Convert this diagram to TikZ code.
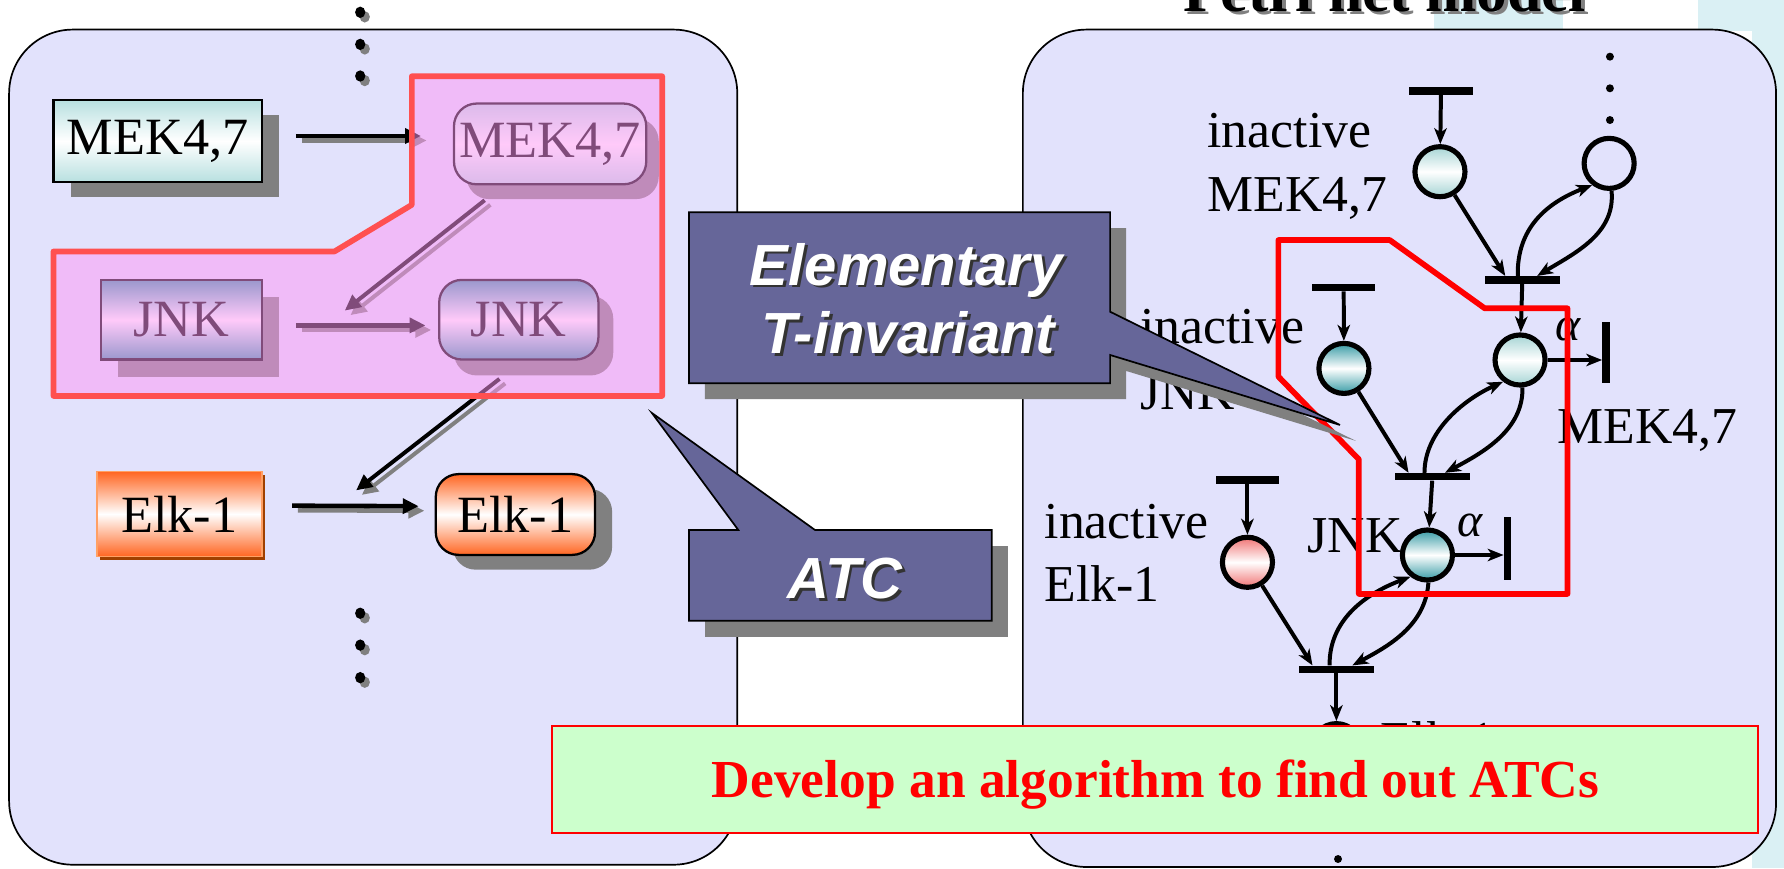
\documentclass[tikz,border=0pt]{standalone}
\usepackage{fontspec}
\setmainfont{Liberation Serif}
\newfontfamily\calloutfont{Liberation Sans}
\usetikzlibrary{arrows.meta,shadows}

\definecolor{panelbg}{RGB}{226,226,252}
\definecolor{shadowgray}{RGB}{128,128,128}
\definecolor{tealL}{RGB}{184,224,224}
\definecolor{tealP}{RGB}{165,212,212}
\definecolor{tealD}{RGB}{55,155,165}
\definecolor{elkorange}{RGB}{255,102,34}
\definecolor{elkedge}{RGB}{160,64,0}
\definecolor{elklight}{RGB}{255,160,100}
\definecolor{elkred}{RGB}{240,115,115}
\definecolor{atcpink}{RGB}{255,150,245}
\definecolor{atcred}{RGB}{255,80,80}
\definecolor{calloutbg}{RGB}{102,102,153}
\definecolor{goalgreen}{RGB}{204,255,204}
\definecolor{slidecyan}{RGB}{218,240,244}

\tikzset{
  panel/.style={draw=black, line width=1.5pt, fill=panelbg, rounded corners=56pt},
  lbl/.style={font=\fontsize{46}{55}\selectfont, inner sep=0pt, draw=black, line width=2pt},
  sqbox/.style={lbl, rectangle},
  rbox/.style={lbl, rectangle, rounded corners=20pt},
  tealgrad/.style={top color=tealL, bottom color=tealL, middle color=white},
  jnkgrad/.style={top color=tealD, bottom color=tealD, middle color=white},
  elkgrad/.style={top color=elkorange, bottom color=elkorange, middle color=white},
  boxshadow/.style 2 args={drop shadow={shadow xshift=#1, shadow yshift=#2, opacity=1, fill=shadowgray}},
  larrow/.style={line width=4pt, -{Triangle[length=14pt,width=13pt]}},
  lshadow/.style={larrow, draw=shadowgray},
  place/.style={circle, draw=black, line width=4.5pt, minimum size=44pt, inner sep=0pt},
  hbar/.style={rectangle, fill=black, inner sep=0pt, minimum height=6.5pt},
  vbar/.style={rectangle, fill=black, inner sep=0pt, minimum width=6.5pt},
  parc/.style={line width=3.5pt, -{Stealth[length=14pt,width=11pt,inset=4pt]}},
  plbl/.style={font=\fontsize{45.5}{55}\selectfont, inner sep=0pt, anchor=base west},
  alphalbl/.style={font=\itshape\fontsize{42}{48}\selectfont, inner sep=0pt},
  callout/.style={fill=calloutbg, draw=black, line width=1.5pt, line join=miter},
  cotext/.style={font=\calloutfont\bfseries\itshape\fontsize{51}{60}\selectfont, inner sep=0pt, anchor=base, text=white},
  coshadow/.style={cotext, text=black!80},
}

\begin{document}
\begin{tikzpicture}[x=1pt,y=-1pt]
\useasboundingbox (0,0) rectangle (1568,763);
\clip (0,0) rectangle (1568,763);

% slide background decoration
\fill[slidecyan] (1260,0) rectangle (1374,27);
\fill[slidecyan] (1492,0) rectangle (1568,27);
\fill[slidecyan] (1540,0) rectangle (1568,763);

% heading of the right panel
\node[font=\bfseries\fontsize{54}{60}\selectfont, inner sep=0pt, anchor=base, text=shadowgray] (titlesh) at (1220,13) {Petri net model};
\node[font=\bfseries\fontsize{54}{60}\selectfont, inner sep=0pt, anchor=base] (title) at (1217,10) {Petri net model};

% panels
\draw[panel] (8,26) rectangle (648,760);
\draw[panel] (899,26) rectangle (1561,762);

% ---------- signalling cascade (left) ----------
\foreach \y in {10.8,39,66.8,539,567,595.6} {
  \fill[shadowgray] (320.6,\y+4) ellipse [x radius=4.5, y radius=5];
  \fill[black] (316.6,\y) ellipse [x radius=4.5, y radius=5];
}

\node[sqbox, tealgrad, boxshadow={15pt}{-13pt}, minimum width=183pt, minimum height=72pt] (mek) at (138.5,124) {MEK4,7};
\node[rbox, tealgrad, boxshadow={11pt}{-13pt}, minimum width=169pt, minimum height=71pt] (meka) at (483.5,126.5) {MEK4,7};
\node[sqbox, jnkgrad, boxshadow={15pt}{-15pt}, minimum width=141pt, minimum height=70pt] (jnk) at (159.5,281) {JNK};
\node[rbox, jnkgrad, boxshadow={13pt}{-14pt}, minimum width=140pt, minimum height=70pt] (jnka) at (456,281) {JNK};
\node[sqbox, elkgrad, draw=elklight, line width=1.5pt,
      drop shadow={shadow xshift=3pt, shadow yshift=-3pt, opacity=1, fill=elkedge},
      minimum width=145pt, minimum height=74.5pt] (elk) at (157.5,451.75) {Elk-1};
\node[rbox, elkgrad, boxshadow={15pt}{-13pt}, minimum width=140pt, minimum height=71pt] (elka) at (453,452.2) {Elk-1};

% activation arrows
\draw[lshadow] ([shift={(34pt,0.5pt)}]mek.east) -- ([shift={(-23pt,3pt)}]meka.west);
\draw[larrow] ([shift={(29pt,4.5pt)}]mek.east) -- ([shift={(-28pt,7pt)}]meka.west);
\draw[lshadow] ([shift={(34pt,-9pt)}]jnk.east) -- ([shift={(-6pt,-9pt)}]jnka.west);
\draw[larrow] ([shift={(29pt,-5pt)}]jnk.east) -- ([shift={(-11pt,-5pt)}]jnka.west);
\draw[lshadow] ([shift={(31pt,3.3pt)}]elk.east) -- ([shift={(-9pt,3.3pt)}]elka.west);
\draw[larrow] ([shift={(26pt,7.3pt)}]elk.east) -- ([shift={(-14pt,7.3pt)}]elka.west);

% catalysis arrows
\coordinate (d1a) at (426,176);
\coordinate (d1b) at (303,273);
\coordinate (d2a) at (439,333);
\coordinate (d2b) at (313,431);
\draw[lshadow, line width=3.5pt] ([shift={(5pt,-4pt)}]d1a) -- ([shift={(5pt,-4pt)}]d1b);
\draw[larrow, line width=3.5pt] (d1a) -- (d1b);
\draw[lshadow, line width=3.5pt] ([shift={(5pt,-4pt)}]d2a) -- ([shift={(5pt,-4pt)}]d2b);
\draw[larrow, line width=3.5pt] (d2a) -- (d2b);

% ATC region
\draw[line width=5pt, draw=atcred, fill=atcpink, fill opacity=0.5, line join=round]
  (362,67) -- (582,67) -- (582,348) -- (47,348) -- (47,221) -- (294,221) -- (362,180) -- cycle;

% ---------- Petri net (right) ----------
\foreach \y in {49.8,77.6,105.5} \fill (1415,\y) circle [radius=3.5];
\fill (1176,755) circle [radius=3.5];

\node[plbl] (lM1) at (1061,130) {inactive};
\node[plbl] (lM2) at (1061,186) {MEK4,7};
\node[plbl] (lJ1) at (1002,302) {inactive};
\node[plbl] (lJ2) at (1002,360) {JNK};
\node[plbl] (lMa) at (1369,390) {MEK4,7};
\node[plbl] (lE1) at (918,473) {inactive};
\node[plbl] (lE2) at (918,529) {Elk-1};
\node[plbl] (lJa) at (1149,486) {JNK};
\node[plbl] (lEa) at (1213,666) {Elk-1};
\node[alphalbl] (a1) at (1378,290) {α};
\node[alphalbl] (a2) at (1292,462) {α};

% transitions
\node[hbar, minimum width=56pt] (tM0) at (1266.5,80) {};
\node[hbar, minimum width=66pt] (tM) at (1338,246) {};
\node[vbar, minimum height=54pt] (tMd) at (1411.6,310) {};
\node[hbar, minimum width=55pt] (tJ0) at (1181,252.6) {};
\node[hbar, minimum width=66pt] (tJ) at (1259,419) {};
\node[vbar, minimum height=56pt] (tJd) at (1325,482) {};
\node[hbar, minimum width=55pt] (tE0) at (1096.4,421.8) {};
\node[hbar, minimum width=66pt] (tE) at (1174.6,588.3) {};

% places
\node[place, top color=tealP, bottom color=tealP, middle color=white] (pM) at (1265.6,150.9) {};
\node[place] (pX) at (1414.3,143.6) {};
\node[place, top color=tealP, bottom color=tealP, middle color=white] (pMa) at (1336,316.4) {};
\node[place, top color=tealD, bottom color=tealD, middle color=white] (pJ) at (1181.2,323.8) {};
\node[place, top color=tealD, bottom color=tealD, middle color=white] (pJa) at (1254.6,487.8) {};
\node[place, top color=elkred, bottom color=elkred, middle color=white] (pE) at (1096.4,494.2) {};
\node[place, top color=elkred, bottom color=elkred, middle color=white] (pEa) at (1174.6,658) {};

% arcs
\draw[parc] (tM0) -- (pM);
\draw[parc] (pM) -- ([xshift=-15pt]tM.north);
\draw[parc] (pX.275) .. controls (1420,205) and (1385,222) .. ([xshift=13pt]tM.north);
\draw[parc] ([xshift=-4pt]tM.north) .. controls (1333,200) and (1360,178) .. (pX.232);
\draw[parc] (tM) -- (pMa);
\draw[parc] (pMa) -- (tMd.west |- pMa);

\draw[parc] (tJ0) -- (pJ);
\draw[parc] (pJ) -- ([xshift=-21pt]tJ.north);
\draw[parc] (pMa.275) .. controls (1339,378) and (1303,398) .. ([xshift=11pt]tJ.north);
\draw[parc] ([xshift=-7pt]tJ.north) .. controls (1252,380) and (1285,352) .. (pMa.232);
\draw[parc] (tJ) -- (pJa);
\draw[parc] (pJa) -- (tJd.west |- pJa);

\draw[parc] (tE0) -- (pE);
\draw[parc] (pE) -- ([xshift=-21pt]tE.north);
\draw[parc] (pJa.272) .. controls (1253,550) and (1220,568) .. ([xshift=14pt]tE.north);
\draw[parc] ([xshift=-6pt]tE.north) .. controls (1168,545) and (1200,522) .. (pJa.232);
\draw[parc] (tE) -- (pEa);

% elementary T-invariant outline
\draw[red, line width=5pt, line join=round]
  (1123.6,211) -- (1221.5,211) -- (1305,271) -- (1377.7,271) -- (1377.7,522)
  -- (1194.3,522) -- (1194.3,403.7) -- (1123.6,331) -- cycle;

% ---------- callouts ----------
\fill[shadowgray, shift={(14,14)}]
  (605.6,186.6) -- (975.7,186.6) -- (975.7,274) -- (1177.7,373.5) -- (975.7,312) -- (975.7,336.9) -- (605.6,336.9) -- cycle;
\draw[callout]
  (605.6,186.6) -- (975.7,186.6) -- (975.7,274) -- (1177.7,373.5) -- (975.7,312) -- (975.7,336.9) -- (605.6,336.9) -- cycle;
\node[coshadow] (elemsh) at (799,253) {Elementary};
\node[cotext] (elem) at (796.6,250.5) {Elementary};
\node[coshadow] (tinvsh) at (801,313) {T-invariant};
\node[cotext] (tinv) at (798.4,310.5) {T-invariant};

\fill[shadowgray, shift={(14,14)}]
  (605.6,465.8) -- (871.6,465.8) -- (871.6,545.5) -- (605.6,545.5) -- cycle;
\draw[callout]
  (605.6,465.8) -- (648.9,465.8) -- (573,363) -- (716.3,465.8) -- (871.6,465.8) -- (871.6,545.5) -- (605.6,545.5) -- cycle;
\node[coshadow] (atcsh) at (745,528.5) {ATC};
\node[cotext] (atc) at (742.6,526) {ATC};

% ---------- goal ----------
\node[draw=red, line width=2pt, fill=goalgreen, minimum width=1060pt, minimum height=94pt, inner sep=0pt] (goal) at (1015,685) {};
\node[font=\bfseries\fontsize{47}{56}\selectfont, text=red, inner sep=0pt, anchor=base] (goaltxt) at (1015.6,701) {Develop an algorithm to find out ATCs};
\end{tikzpicture}
\end{document}
